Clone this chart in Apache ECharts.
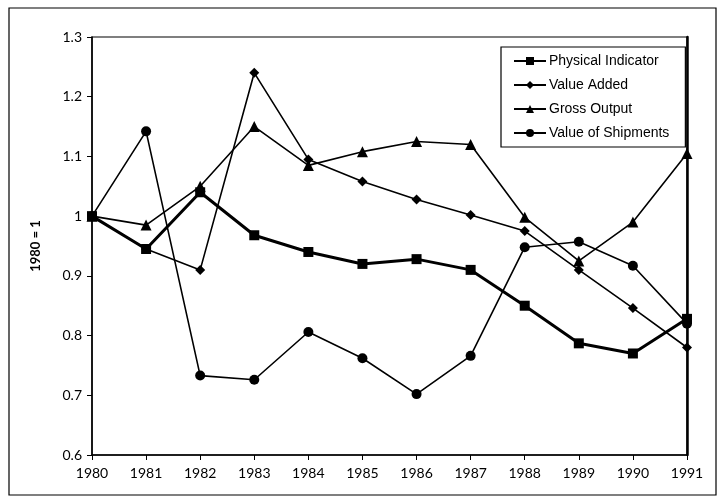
<!DOCTYPE html>
<html><head><meta charset="utf-8">
<script src="https://cdn.jsdelivr.net/npm/echarts@6/dist/echarts.min.js"></script>
<style>html,body{margin:0;padding:0;background:#fff}#c{width:724px;height:503px}</style>
</head><body><div id="c"></div>
<script>
const years = ['1980','1981','1982','1983','1984','1985','1986','1987','1988','1989','1990','1991'];
const physicalIndicator = [1.0,0.945,1.04,0.968,0.94,0.92,0.928,0.91,0.85,0.787,0.77,0.828];
const valueAdded = [1.0,0.945,0.91,1.24,1.095,1.058,1.028,1.002,0.975,0.91,0.846,0.78];
const grossOutput = [1.0,0.985,1.05,1.15,1.085,1.108,1.125,1.12,0.998,0.925,0.99,1.105];
const valueOfShipments = [1.0,1.142,0.733,0.726,0.806,0.762,0.702,0.766,0.948,0.957,0.917,0.82];
const yTicks = [0.6,0.7,0.8,0.9,1.0,1.1,1.2,1.3];

const chart = echarts.init(document.getElementById('c'), null, {renderer:'canvas'});
const axisFont = 'Lato, "DejaVu Sans", sans-serif';
function mk(name, data, symbol, size, width){
  return {name, type:'line', data, symbol, symbolSize:size, showAllSymbol:true,
    lineStyle:{color:'#000', width}, itemStyle:{color:'#000'}, z: width>2?5:3};
}
chart.setOption({
  animation:false,
  backgroundColor:'#fff',
  grid:{left:92, right:37, top:37, bottom:48, show:true, borderColor:'#000', borderWidth:1.2},
  graphic:[{type:'rect', shape:{x:9,y:8,width:707,height:487}, style:{fill:'none', stroke:'#000', lineWidth:1.2}}],
  legend:{
    left:501, top:47, orient:'vertical', itemGap:10, itemWidth:32, itemHeight:10,
    borderColor:'#000', borderWidth:1.2, padding:[7,16,7,12], backgroundColor:'#fff',
    textStyle:{fontFamily:'"Liberation Sans", Arial, sans-serif', fontSize:14, color:'#000', padding:[0,0,0,-2]},
    data:['Physical Indicator','Value Added','Gross Output','Value of Shipments']
  },
  xAxis:{type:'category', data:years, boundaryGap:false,
    axisLine:{lineStyle:{color:'#000', width:1.5}},
    axisTick:{alignWithLabel:true, length:5, lineStyle:{color:'#000'}},
    axisLabel:{color:'#000', fontFamily:axisFont, fontSize:14, margin:11}},
  yAxis:[{type:'value', min:0.6, max:1.3, interval:0.1, name:'1980 = 1', nameLocation:'middle', nameGap:50,
    nameTextStyle:{color:'#000', fontFamily:axisFont, fontWeight:'bold', fontSize:13},
    axisLine:{show:true, lineStyle:{color:'#000', width:1.5}},
    axisTick:{show:true, length:5, lineStyle:{color:'#000'}},
    splitLine:{show:false},
    axisLabel:{color:'#000', fontFamily:axisFont, fontSize:14, margin:10,
      formatter:v=>{const r=Math.round(v*10)/10; return r===1?'1':String(r);}}},
   {type:'value', min:0.6, max:1.3, interval:0.1, position:'right',
    axisLine:{show:true, lineStyle:{color:'#000', width:2.5}}, axisTick:{show:false}, axisLabel:{show:false}, splitLine:{show:false}}],
  series:[
    mk('Physical Indicator', physicalIndicator, 'rect', 10, 3),
    mk('Value Added', valueAdded, 'diamond', 10, 1.6),
    mk('Gross Output', grossOutput, 'triangle', 11, 1.6),
    mk('Value of Shipments', valueOfShipments, 'circle', 10, 1.6)
  ]
});
</script></body></html>
